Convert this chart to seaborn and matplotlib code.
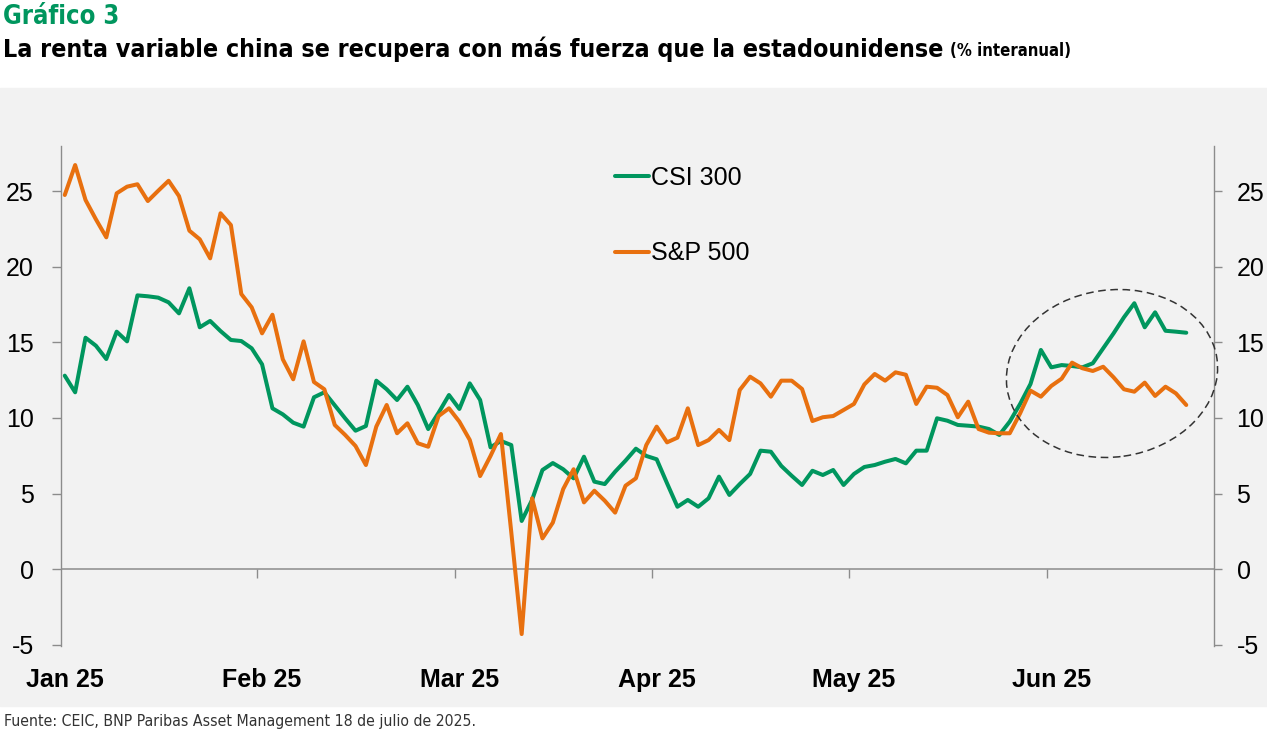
import pandas as pd
import matplotlib
matplotlib.use("Agg")
import matplotlib.pyplot as plt
import matplotlib.font_manager as fm
from matplotlib.patches import Ellipse, Rectangle
import seaborn as sns

# % interanual, one value per observation (category axis)
csi300 = [12.80, 11.70, 15.31, 14.78, 13.90, 15.71, 15.07, 18.11, 18.05, 17.96,
          17.65, 16.92, 18.58, 16.00, 16.42, 15.75, 15.16, 15.09, 14.61, 13.55,
          10.64, 10.24, 9.69, 9.43, 11.37, 11.70, 10.84, 9.98, 9.16, 9.47,
          12.47, 11.90, 11.19, 12.07, 10.86, 9.27, 10.35, 11.52, 10.60, 12.29,
          11.19, 8.06, 8.48, 8.21, 3.19, 4.58, 6.56, 7.02, 6.61, 6.01,
          7.44, 5.79, 5.63, 6.45, 7.18, 7.97, 7.49, 7.27, 5.68, 4.13,
          4.58, 4.13, 4.69, 6.12, 4.91, 5.63, 6.30, 7.84, 7.77, 6.83,
          6.18, 5.57, 6.51, 6.23, 6.56, 5.57, 6.30, 6.76, 6.89, 7.11,
          7.29, 7.00, 7.84, 7.84, 9.98, 9.82, 9.54, 9.49, 9.43, 9.27,
          8.88, 9.76, 10.93, 12.25, 14.50, 13.35, 13.50, 13.44, 13.35, 13.62,
          14.61, 15.60, 16.66, 17.59, 16.00, 16.99, 15.77, 15.71, 15.64]
sp500 = [24.75, 26.73, 24.42, 23.14, 21.95, 24.86, 25.30, 25.46, 24.35, 25.03,
         25.69, 24.68, 22.39, 21.82, 20.56, 23.54, 22.76, 18.20, 17.32, 15.60,
         16.83, 13.88, 12.56, 15.07, 12.38, 11.90, 9.54, 8.88, 8.15, 6.89,
         9.43, 10.86, 8.99, 9.65, 8.33, 8.10, 10.13, 10.64, 9.76, 8.55,
         6.16, 7.49, 8.94, 2.44, -4.29, 4.69, 2.04, 3.08, 5.30, 6.61,
         4.42, 5.19, 4.53, 3.74, 5.52, 6.01, 8.21, 9.43, 8.39, 8.70,
         10.64, 8.21, 8.54, 9.21, 8.54, 11.85, 12.73, 12.29, 11.41, 12.47,
         12.47, 11.92, 9.80, 10.05, 10.13, 10.53, 10.93, 12.22, 12.91, 12.47,
         13.02, 12.86, 10.93, 12.07, 12.00, 11.52, 10.05, 11.08, 9.27, 9.03,
         8.99, 8.99, 10.31, 11.81, 11.41, 12.12, 12.60, 13.66, 13.29, 13.11,
         13.39, 12.69, 11.90, 11.74, 12.34, 11.46, 12.07, 11.63, 10.86]
month_labels = ["Jan 25", "Feb 25", "Mar 25", "Apr 25", "May 25", "Jun 25"]
month_pos = [0, 19, 38, 57, 76, 95]
y_ticks = [-5, 0, 5, 10, 15, 20, 25]

GREEN = "#00965E"
ORANGE = "#E8700F"
PANEL = "#F2F2F2"
AXIS = "#8C8C8C"

df = pd.DataFrame({"t": range(len(csi300)), "CSI 300": csi300, "S&P 500": sp500})
long = df.melt(id_vars="t", var_name="serie", value_name="valor")

sns.set_style("white")
plt.rcParams["font.family"] = ["Liberation Sans", "DejaVu Sans"]
plt.rcParams["text.color"] = "black"

# narrow bold face for the headline texts, if one is installed
names = {(f.name, f.stretch) for f in fm.fontManager.ttflist}
if any(n == "Liberation Sans Narrow" for n, s in names):
    head = dict(family="Liberation Sans Narrow")
elif ("DejaVu Sans", "condensed") in names:
    head = dict(family="DejaVu Sans", fontstretch="condensed")
else:
    head = dict(family="Liberation Sans")

W, H = 1267, 732
fig = plt.figure(figsize=(W / 100, H / 100), dpi=100)
fig.patches.append(Rectangle((0, (H - 706) / H), 1, (706 - 88) / H,
                             transform=fig.transFigure, color=PANEL, zorder=-10))

ax = fig.add_axes([60.5 / W, (H - 646) / H, (1214.3 - 60.5) / W, 500 / H])
ax.set_facecolor("none")
sns.lineplot(data=long, x="t", y="valor", hue="serie",
             palette={"CSI 300": GREEN, "S&P 500": ORANGE},
             linewidth=2.9, errorbar=None, legend=False, ax=ax)
handles = list(ax.lines[:2])

ax.set_xlim(-0.41, 110.7)
ax.set_ylim(-5.08, 27.99)
ax.set_xlabel("")
ax.set_ylabel("")

for side in ["top", "bottom"]:
    ax.spines[side].set_visible(False)
for side in ["left", "right"]:
    ax.spines[side].set_color(AXIS)
    ax.spines[side].set_linewidth(1.0)

ax.axhline(0, color=AXIS, lw=1.1, zorder=1)
ax.vlines([p - 0.45 for p in month_pos[1:]], 0, -0.6, color=AXIS, lw=1.0)

ax.set_yticks(y_ticks)
ax.set_yticklabels([str(v) for v in y_ticks])
ax.tick_params(axis="y", length=6.2, width=1, color=AXIS, pad=13,
               labelsize=18, labelcolor="black")
ax2 = ax.twinx()
ax2.set_ylim(ax.get_ylim())
ax2.set_yticks(y_ticks)
ax2.set_yticklabels([str(v) for v in y_ticks])
ax2.tick_params(axis="y", length=5.5, width=1, color=AXIS, pad=10.5,
                labelsize=18, labelcolor="black")
for s in ax2.spines.values():
    s.set_visible(False)

ax.set_xticks(month_pos)
ax.set_xticklabels(month_labels, fontsize=18, fontweight="bold", color="black")
ax.tick_params(axis="x", length=0, pad=15.5)

ax.legend(handles, ["CSI 300", "S&P 500"], loc="upper left",
          bbox_to_anchor=(615 / W, (H - 166) / H), bbox_transform=fig.transFigure,
          frameon=False, fontsize=18, handlelength=1.35, handletextpad=0.1,
          labelspacing=2.05, borderpad=0, borderaxespad=0, labelcolor="black")

fig.add_artist(Ellipse((11.12, (H - 373.5) / 100), 2.12, 1.67, angle=8,
                       transform=fig.dpi_scale_trans, fill=False, ec="#333333",
                       lw=1.1, ls=(0, (5, 3)), clip_on=False))


def fit_text(x_px, base_px, s, width_px, **kw):
    t = fig.text(x_px / W, (H - base_px) / H, s, ha="left", va="baseline", **kw)
    r = fig.canvas.get_renderer()
    w = t.get_window_extent(renderer=r).width
    t.set_fontsize(t.get_fontsize() * width_px / w)
    return t


fit_text(3, 24.5, "Gráfico 3", 117, color=GREEN, fontweight="bold", fontsize=20, **head)
fit_text(3, 56.5, "La renta variable china se recupera con más fuerza que la estadounidense",
         943, color="black", fontweight="bold", fontsize=20, **head)
fit_text(950, 56.5, "(% interanual)", 121, color="black", fontweight="bold",
         fontsize=12, **head)
fit_text(4, 726, "Fuente: CEIC, BNP Paribas Asset Management 18 de julio de 2025.",
         473, color="#333333", fontsize=11, **head)

fig.savefig("out.png", dpi=100)
